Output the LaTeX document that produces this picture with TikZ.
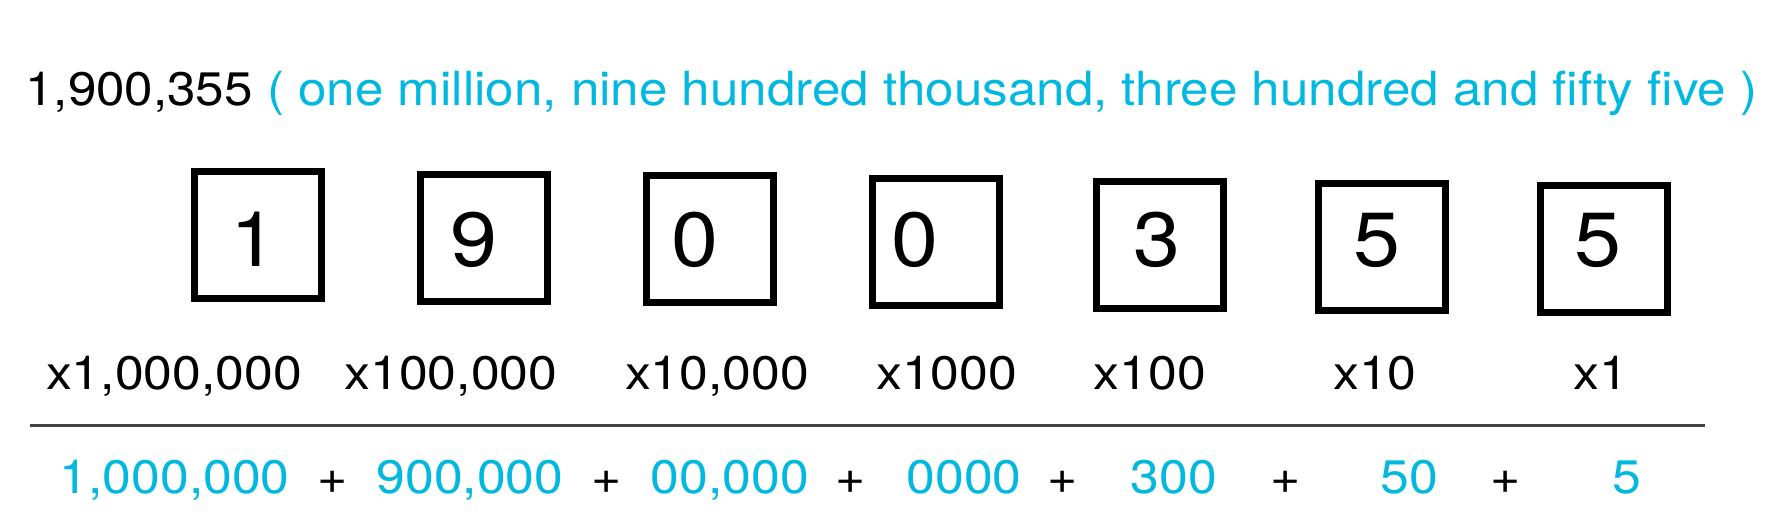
\documentclass[tikz,border=0pt]{standalone}
\usepackage{fontspec}
\setmainfont{TeX Gyre Heros}[FakeStretch=1.1]
\newfontfamily\titlefont{TeX Gyre Heros}[FakeStretch=1.088]
\definecolor{numcyan}{HTML}{00B8E0}
\definecolor{rulegray}{HTML}{444444}
\begin{document}
\begin{tikzpicture}[x=0.5pt,y=-0.5pt,
  txt/.style={font=\fontsize{23.5pt}{28pt}\selectfont, inner sep=0pt, anchor=base},
  cy/.style={txt, text=numcyan},
  digitbox/.style={draw=black, line width=3.5pt, minimum width=63.5pt, minimum height=63.5pt, inner sep=0pt},
  digit/.style={font=\fontsize{38.4pt}{40pt}\selectfont, inner sep=0pt, anchor=base}]
\useasboundingbox[fill=white] (0,0) rectangle (1785,528);

% title
\node[txt, font=\titlefont\fontsize{23.5pt}{28pt}\selectfont, anchor=base west] (title) at (25,106) {1,900,355 \textcolor{numcyan}{( one million, nine hundred thousand, three hundred and fifty five )}};

% boxes
\node[digitbox] (b1) at (258,235.5) {};
\node[digitbox] (b2) at (484,238) {};
\node[digitbox] (b3) at (710,239.5) {};
\node[digitbox] (b4) at (935.5,242) {};
\node[digitbox] (b5) at (1160,245.5) {};
\node[digitbox] (b6) at (1382,247.5) {};
\node[digitbox] (b7) at (1604,249) {};

% digits
\node[digit] (d1) at (254,267) {1};
\node[digit] (d2) at (474,267) {9};
\node[digit] (d3) at (695,267) {0};
\node[digit] (d4) at (915,267) {0};
\node[digit] (d5) at (1157,267) {3};
\node[digit] (d6) at (1377,267) {5};
\node[digit] (d7) at (1598,267) {5};

% multipliers
\node[txt] (m1) at (174,390) {x1,000,000};
\node[txt] (m2) at (451,390) {x100,000};
\node[txt] (m3) at (717,390) {x10,000};
\node[txt] (m4) at (946.6,390) {x1000};
\node[txt] (m5) at (1150,390) {x100};
\node[txt] (m6) at (1375,390) {x10};
\node[txt] (m7) at (1600.6,390) {x1};

% rule
\coordinate (rl) at (30,425.5);
\coordinate (rr) at (1705,425.5);
\draw[rulegray, line width=1.5pt] (rl) -- (rr);

% sum
\node[cy] (s1) at (174.7,494) {1,000,000};
\node[txt] (p1) at (333,494) {+};
\node[cy] (s2) at (470,494) {900,000};
\node[txt] (p2) at (607,494) {+};
\node[cy] (s3) at (729.7,494) {00,000};
\node[txt] (p3) at (851,494) {+};
\node[cy] (s4) at (964,494) {0000};
\node[txt] (p4) at (1063,494) {+};
\node[cy] (s5) at (1174,494) {300};
\node[txt] (p5) at (1286,494) {+};
\node[cy] (s6) at (1409,494) {50};
\node[txt] (p6) at (1506,494) {+};
\node[cy] (s7) at (1627,494) {5};
\end{tikzpicture}
\end{document}
